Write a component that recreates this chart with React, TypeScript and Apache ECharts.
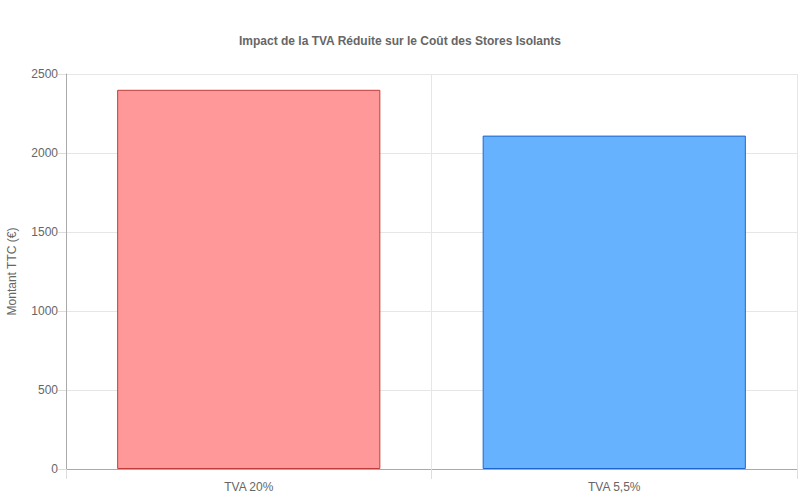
import React, { useEffect, useRef } from "react";
import * as echarts from "echarts";

const categories = ["TVA 20%", "TVA 5,5%"];
const montants = [2400, 2110];
const fillColors = ["#ff9999", "#66b2ff"];
const borderColors = ["#c23b3b", "#1f66cc"];

const App: React.FC = () => {
    const containerRef = useRef<HTMLDivElement | null>(null);

    useEffect(() => {
        if (!containerRef.current) return;
        const inst = echarts.init(containerRef.current, undefined, { renderer: "svg" });

        inst.setOption({
            animation: false,
            textStyle: { fontFamily: "'Liberation Sans', Arial, sans-serif" },
            title: {
                text: "Impact de la TVA Réduite sur le Coût des Stores Isolants",
                left: "center",
                top: 30,
                textStyle: { color: "#666", fontSize: 12, fontWeight: "bold" },
            },
            grid: {
                left: 66,
                right: 3,
                top: 74,
                bottom: 31,
                containLabel: false,
                outerBoundsMode: "none",
            },
            xAxis: {
                type: "category",
                data: categories,
                axisLine: { show: true, lineStyle: { color: "#aaa" } },
                axisTick: { show: true, length: 10, lineStyle: { color: "#ddd" } },
                splitLine: { show: true, lineStyle: { color: "#e6e6e6" } },
                axisLabel: { color: "#666", fontSize: 12, margin: 12 },
            },
            yAxis: {
                type: "value",
                min: 0,
                max: 2500,
                interval: 500,
                name: "Montant TTC (€)",
                nameLocation: "middle",
                nameGap: 48,
                nameTextStyle: { color: "#666", fontSize: 12 },
                axisLine: { show: true, lineStyle: { color: "#aaa" } },
                axisTick: { show: true, length: 8, lineStyle: { color: "#ddd" } },
                splitLine: { show: true, lineStyle: { color: "#e6e6e6" } },
                axisLabel: {
                    color: "#666",
                    fontSize: 12,
                    margin: 8,
                    formatter: (v: number) => String(v),
                },
            },
            series: [
                {
                    type: "bar",
                    barWidth: "72%",
                    data: montants.map((v, i) => ({
                        value: v,
                        itemStyle: {
                            color: fillColors[i],
                            borderColor: borderColors[i],
                            borderWidth: 1,
                        },
                    })),
                },
            ],
        });

        return () => {
            inst.dispose();
        };
    }, []);

    return (
        <div
            ref={containerRef}
            style={{ position: "fixed", left: 0, top: 0, width: 800, height: 500, background: "#fff" }}
        />
    );
};

export default App;
